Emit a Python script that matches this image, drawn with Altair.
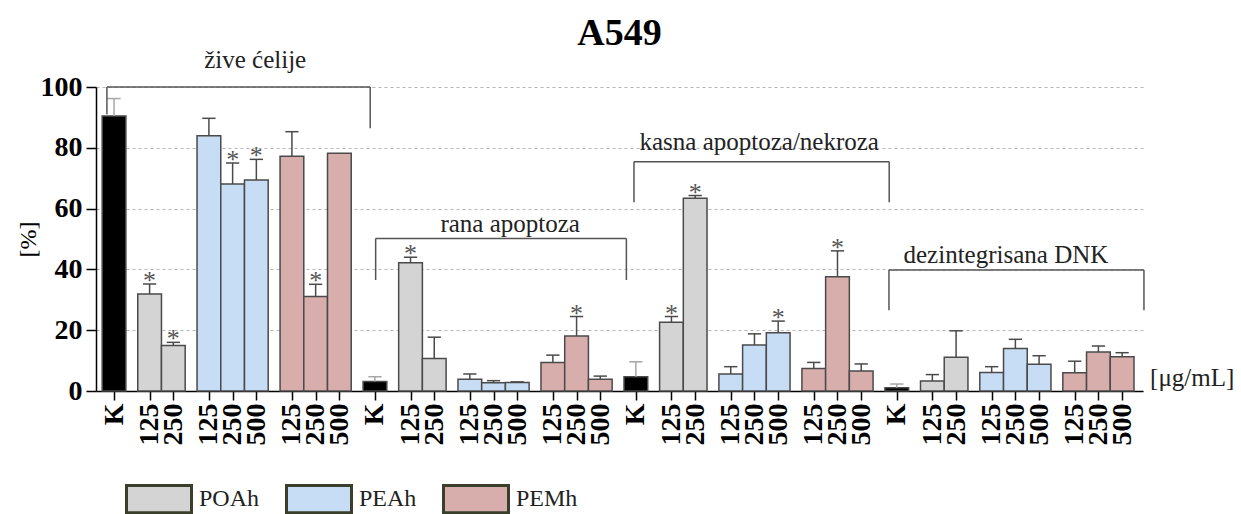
import altair as alt
import pandas as pd

# ---------------- data ----------------
sections = ["žive ćelije", "rana apoptoza", "kasna apoptoza/nekroza", "dezintegrisana DNK"]
groups = ["K", "POAh", "POAh", "PEAh", "PEAh", "PEAh", "PEMh", "PEMh", "PEMh"]
doses = ["K", "125", "250", "125", "250", "500", "125", "250", "500"]

values = [
    [90.5, 31.9, 15.0, 84.0, 68.1, 69.4, 77.2, 31.1, 78.2],   # žive ćelije
    [3.1, 42.2, 10.7, 3.9, 2.7, 2.8, 9.4, 18.1, 3.9],         # rana apoptoza
    [4.7, 22.6, 63.4, 5.6, 15.1, 19.2, 7.4, 37.6, 6.6],       # kasna apoptoza/nekroza
    [1.1, 3.3, 11.1, 6.1, 14.0, 8.8, 6.0, 12.8, 11.3],        # dezintegrisana DNK
]
errors = [
    [5.7, 3.3, 1.0, 5.7, 6.9, 6.8, 8.1, 4.0, 0.0],
    [1.6, 1.8, 7.0, 1.7, 0.7, 0.2, 2.4, 6.4, 1.0],
    [4.9, 1.9, 0.9, 2.4, 3.7, 3.8, 2.0, 8.5, 2.3],
    [1.2, 2.1, 8.7, 1.9, 3.0, 2.8, 3.8, 2.0, 1.3],
]
stars = [
    [0, 1, 1, 0, 1, 1, 0, 1, 0],
    [0, 1, 0, 0, 0, 0, 0, 1, 0],
    [0, 1, 1, 0, 0, 1, 0, 1, 0],
    [0, 0, 0, 0, 0, 0, 0, 0, 0],
]

legend_groups = ["POAh", "PEAh", "PEMh"]
color_domain = ["K", "POAh", "PEAh", "PEMh"]
color_range = ["#000000", "#d4d4d4", "#c7dcf5", "#d7aeac"]

# bracket annotations (in axis units): left x, right x, top y, left leg end, right leg end, label x, label y
brk_xl = [-0.3, 11.03, 21.92, 32.67]
brk_xr = [10.8, 21.6, 32.68, 43.42]
brk_top = [100.0, 50.2, 75.4, 39.8]
brk_lb = [91.0, 36.5, 62.1, 26.6]
brk_rb = [86.4, 36.5, 62.1, 26.6]
brk_lx = [5.95, 16.7, 27.2, 37.6]
brk_ly = [106.3, 52.4, 79.3, 42.0]

unit_label = "[μg/mL]"

# ---------------- build tables ----------------
rows = []
base = 0.0
for s, sec in enumerate(sections):
    pos = 0.0
    prev = None
    for i, (g, d) in enumerate(zip(groups, doses)):
        if prev is not None:
            pos += 1.0 + (0.5 if g != prev else 0.0)
        prev = g
        v = values[s][i]
        e = errors[s][i]
        rows.append(dict(section=sec, group=g, dose=d, pos=base + pos,
                         value=v, err=e, top=v + e, star=stars[s][i]))
    base += pos + 1.5
bars = pd.DataFrame(rows)
bars["x0"] = bars["pos"] - 0.5
bars["x1"] = bars["pos"] + 0.5
bars["capL"] = bars["pos"] - 0.28
bars["capR"] = bars["pos"] + 0.28

seg = []
for i, sec in enumerate(sections):
    seg.append(dict(x=brk_xl[i], x2=brk_xr[i], y=brk_top[i], y2=brk_top[i]))
    seg.append(dict(x=brk_xl[i], x2=brk_xl[i], y=brk_top[i], y2=brk_lb[i]))
    seg.append(dict(x=brk_xr[i], x2=brk_xr[i], y=brk_top[i], y2=brk_rb[i]))
segs = pd.DataFrame(seg)
labels = pd.DataFrame(dict(label=sections, x=brk_lx, y=brk_ly))
unit = pd.DataFrame(dict(label=[unit_label], x=[43.68], y=[4.3]))

label_map = "{" + ",".join(f"'{p:g}':'{d}'" for p, d in zip(bars["pos"], bars["dose"])) + "}"

SERIF = "Liberation Serif"
XDOM = [-0.76, 43.38]
xs = alt.Scale(domain=XDOM, nice=False, zero=False)
ys = alt.Scale(domain=[0, 100], nice=False)

x_axis = alt.Axis(values=list(bars["pos"]), labelExpr=f"{label_map}[datum.value]",
                  labelAngle=-90, labelAlign="right", labelBaseline="middle",
                  labelFont=SERIF, labelFontSize=28, labelFontWeight="bold", labelColor="#000",
                  labelOverlap=False, labelFlush=False, labelBound=False, labelPadding=3,
                  tickSize=9, tickColor="#000", tickWidth=1.5,
                  domainColor="#000", domainWidth=1.5, grid=False, title="")
y_axis = alt.Axis(values=[0, 20, 40, 60, 80, 100], labelFont=SERIF, labelFontSize=28,
                  labelFontWeight="bold", labelColor="#000", labelPadding=4,
                  labelOverlap=False,
                  tickSize=10, tickColor="#000", tickWidth=1.5,
                  domainColor="#000", domainWidth=1.5,
                  grid=True, gridColor="#b5b5b5", gridDash=[3, 3], gridWidth=1,
                  title="[%]", titleFont=SERIF, titleFontSize=24, titleFontWeight="normal",
                  titleColor="#000", titlePadding=0)


def X(field):
    return alt.X(field, scale=xs, axis=x_axis)


def Y(field):
    return alt.Y(field, scale=ys, axis=y_axis)


bar_layer = alt.Chart(bars).mark_rect(stroke="#4a4a4a", strokeWidth=1.5).encode(
    x=X("x0:Q"),
    x2="x1:Q",
    y=Y("value:Q"),
    y2=alt.datum(0),
    color=alt.Color("group:N", scale=alt.Scale(domain=color_domain, range=color_range),
                    legend=alt.Legend(title=None, orient="none", legendX=29, legendY=378,
                                      direction="horizontal", values=legend_groups,
                                      symbolType="M-1,-0.42H1V0.42H-1Z", symbolSize=4225,
                                      symbolStrokeColor="#3a3f2c", symbolStrokeWidth=3,
                                      symbolOpacity=1,
                                      labelFont=SERIF, labelFontSize=24, labelColor="#222",
                                      labelOffset=6, columnPadding=20, padding=0)),
)

err_color = alt.condition(alt.datum.group == "K", alt.value("#a6a6a6"), alt.value("#4a4a4a"))
eb = alt.Chart(bars).transform_filter(alt.datum.err > 0)
err_layer = eb.mark_rule(strokeWidth=1.5).encode(
    x=X("pos:Q"),
    y=Y("value:Q"),
    y2="top:Q",
    color=err_color,
)
cap_layer = eb.mark_rule(strokeWidth=1.5).encode(
    x=X("capL:Q"),
    x2="capR:Q",
    y=Y("top:Q"),
    color=err_color,
)
star_layer = alt.Chart(bars).transform_filter(alt.datum.star == 1).mark_text(
    text="*", font=SERIF, fontSize=26, color="#555555", baseline="alphabetic", dy=5
).encode(
    x=X("pos:Q"),
    y=Y("top:Q"),
)
brk_layer = alt.Chart(segs).mark_rule(color="#555555", strokeWidth=1.5).encode(
    x=X("x:Q"), x2="x2:Q",
    y=Y("y:Q"), y2="y2:Q",
)
lab_layer = alt.Chart(labels).mark_text(
    font=SERIF, fontSize=25, color="#222", baseline="alphabetic", align="center"
).encode(
    x=X("x:Q"),
    y=Y("y:Q"),
    text="label:N",
)
unit_layer = alt.Chart(unit).mark_text(
    font=SERIF, fontSize=25, color="#222", baseline="middle", align="left"
).encode(
    x=X("x:Q"),
    y=Y("y:Q"),
    text="label:N",
)

chart = alt.layer(bar_layer, err_layer, cap_layer, star_layer, brk_layer, lab_layer, unit_layer).properties(
    width=1047, height=304,
    title=alt.Title("A549", font=SERIF, fontSize=38, fontWeight="bold", color="#000",
                    anchor="middle", offset=-5),
    autosize=alt.AutoSizeParams(type="none"),
    padding={"left": 96, "top": 87, "right": 98, "bottom": 123},
).configure_view(stroke=None).configure_axis(labelOverlap=False)

chart.save("out.html", embed_options={"renderer": "svg", "actions": False})
